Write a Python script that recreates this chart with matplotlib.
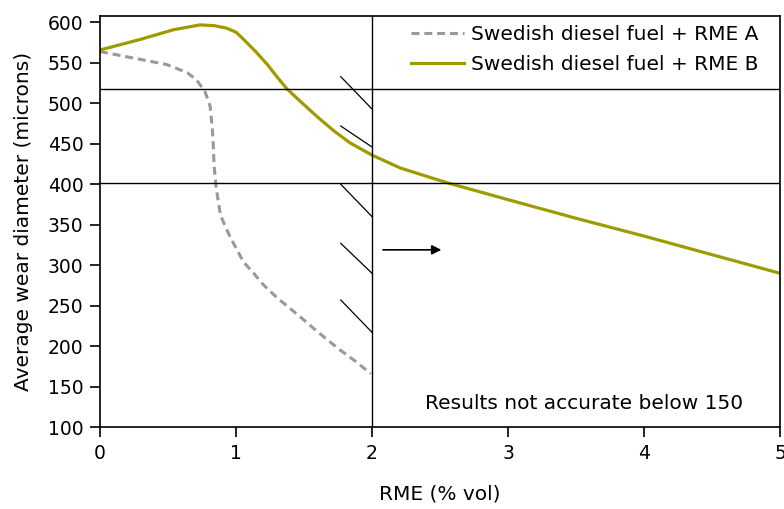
import matplotlib.pyplot as plt
import numpy as np

# RME content (% vol) and wear scar diameter (microns)
rme_a = [0.0, 0.245, 0.49, 0.64, 0.71, 0.773, 0.81, 0.825, 0.832, 0.839, 0.853, 0.871,
         0.884, 0.90, 0.945, 0.994, 1.055, 1.13, 1.20, 1.30, 1.387, 1.473, 1.57, 1.67,
         1.767, 1.88, 1.99]
wear_a = [564, 556, 548, 538, 529, 514, 496, 470, 450, 422, 397, 377,
          364, 356, 339, 323, 304, 290, 276, 260, 248, 236, 222, 208,
          195, 181, 166]

rme_b = [0.0, 0.295, 0.54, 0.736, 0.84, 0.93, 1.0, 1.056, 1.15, 1.23, 1.30, 1.374,
         1.45, 1.60, 1.72, 1.84, 2.0, 2.21, 2.55, 3.0, 3.5, 4.0, 4.5, 5.0]
wear_b = [566, 579, 591, 597, 596, 593, 588, 579, 563, 548, 533, 518,
          506, 483, 466, 451, 436, 420, 402, 381, 358, 336, 313, 290]

label_a = 'Swedish diesel fuel + RME A'
label_b = 'Swedish diesel fuel + RME B'

hline_levels = [518, 402]
limit_x = 2.0
# short hatch marks left of the limit line (start, end heights)
hatch_top = [533, 472, 400, 327, 257]
hatch_bottom = [493, 446, 360, 290, 217]

plt.rcParams['font.family'] = ['DejaVu Sans']

fig = plt.figure(figsize=(7.84, 5.09), dpi=100)
ax = fig.add_axes([0.1276, 0.161, 0.8674, 0.8076])

ax.plot(rme_a, wear_a, color='#999999', lw=2.2, ls=(0, (2.6, 1.6)), label=label_a)
ax.plot(rme_b, wear_b, color='#9e9b00', lw=2.3, label=label_b)

for lvl in hline_levels:
    ax.axhline(lvl, color='black', lw=1)
ax.axvline(limit_x, color='black', lw=1)

for t, b in zip(hatch_top, hatch_bottom):
    ax.plot([1.77, 2.0], [t, b], color='black', lw=0.9)

ax.annotate('', xy=(2.53, 319), xytext=(2.06, 319),
            arrowprops=dict(arrowstyle='-|>', color='black', lw=1.2, mutation_scale=14))

ax.text(3.56, 129, 'Results not accurate below 150', ha='center', va='center', fontsize=14.5)

ax.set_xlim(0, 5)
ax.set_ylim(100, 608)
ax.set_xticks([0, 1, 2, 3, 4, 5])
ax.set_yticks(np.arange(100, 601, 50))
ax.tick_params(direction='out', length=7, width=1.2, pad=5, labelsize=13.5)
for s in ax.spines.values():
    s.set_linewidth(1.2)

ax.set_xlabel('RME (% vol)', fontsize=14.5, va='center')
ax.set_ylabel('Average wear diameter (microns)', fontsize=14.5, va='center')
ax.xaxis.set_label_coords(0.5, -0.163)
ax.yaxis.set_label_coords(-0.113, 0.5)

ax.legend(loc='upper right', bbox_to_anchor=(0.972, 0.985), frameon=False, fontsize=14.5,
          handlelength=2.6, borderpad=0.15, borderaxespad=0, labelspacing=0.55,
          handletextpad=0.35)

fig.savefig('out.png', dpi=100)
